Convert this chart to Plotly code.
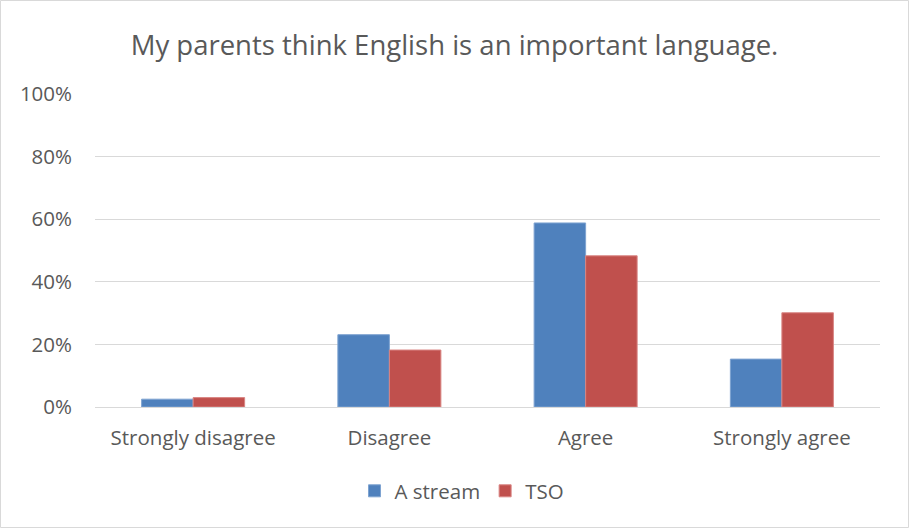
import plotly.graph_objects as go

categories = ["Strongly disagree", "Disagree", "Agree", "Strongly agree"]
a_stream = [0.025, 0.231, 0.588, 0.153]
tso = [0.030, 0.182, 0.483, 0.301]
y_ticks = [0, 0.2, 0.4, 0.6, 0.8, 1.0]
y_tick_labels = ["0%", "20%", "40%", "60%", "80%", "100%"]

W, H = 909, 528
L, R, T, B = 95, 29, 94, 121
pw, ph = W - L - R, H - T - B

font = "Open Sans, Liberation Sans, sans-serif"
gray = "#595959"

fig = go.Figure()
fig.add_trace(go.Bar(name="A stream", x=categories, y=a_stream,
                     marker=dict(color="#4f81bd", line=dict(color="#7ea3d1", width=1))))
fig.add_trace(go.Bar(name="TSO", x=categories, y=tso,
                     marker=dict(color="#c0504d", line=dict(color="#d98583", width=1))))

fig.update_layout(
    width=W, height=H,
    margin=dict(l=L, r=R, t=T, b=B),
    paper_bgcolor="white", plot_bgcolor="white",
    barmode="group", bargap=0.475, bargroupgap=0,
    title=dict(text="My parents think English is an important language.",
               x=0.5, xanchor="center", y=1 - 45 / H, yanchor="middle",
               font=dict(family=font, size=27.5, color=gray)),
    font=dict(family=font, size=20.5, color=gray),
    legend=dict(orientation="h", x=(462 - L) / pw, xanchor="center",
                y=-(491 - (T + ph)) / ph, yanchor="middle",
                font=dict(size=20.5, color=gray), traceorder="normal",
                itemwidth=30),
    showlegend=True,
)
fig.update_xaxes(showgrid=False, showline=False, ticks="", ticklabelstandoff=16,
                 tickfont=dict(size=20.5, color=gray))
fig.update_yaxes(range=[0, 1], tickvals=y_ticks, ticktext=y_tick_labels,
                 showgrid=True, gridcolor="#d9d9d9", gridwidth=1,
                 zeroline=True, zerolinecolor="#d9d9d9", zerolinewidth=1,
                 showline=False, ticks="", ticklen=0, ticklabelstandoff=22,
                 tickfont=dict(size=20.5, color=gray))
fig.add_shape(type="rect", xref="paper", yref="paper",
              x0=-(L - 0.5) / pw, x1=1 + (R - 0.5) / pw,
              y0=-(B - 0.5) / ph, y1=1 + (T - 0.5) / ph,
              line=dict(color="#d9d9d9", width=1), layer="below")

fig.write_html("out.html")
